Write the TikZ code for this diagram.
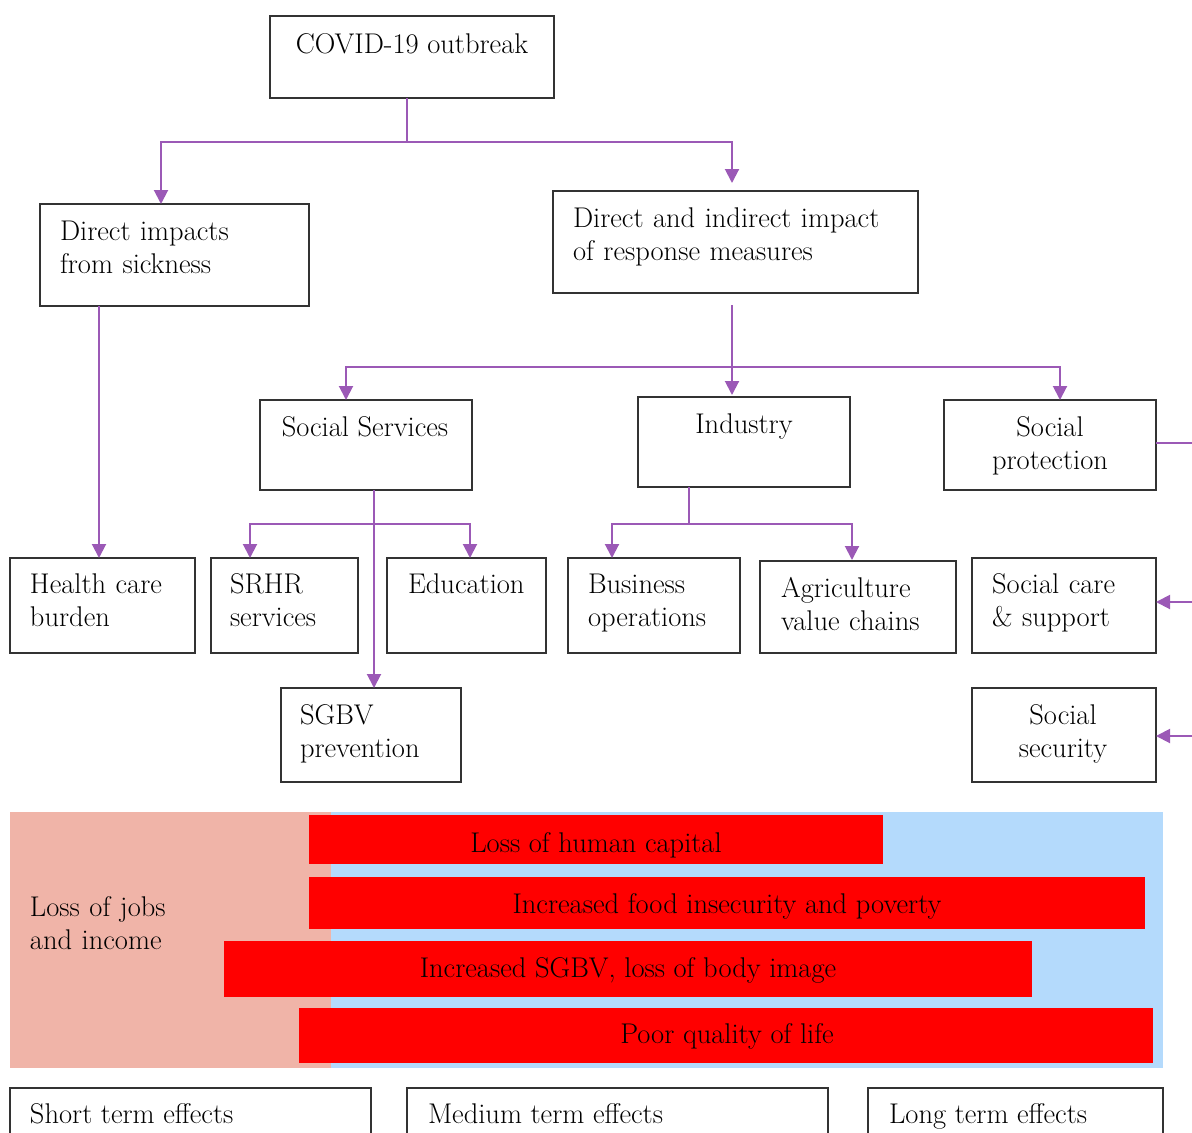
\documentclass[tikz,border=0pt]{standalone}
\usetikzlibrary{arrows.meta}
\definecolor{conncol}{RGB}{155,89,182}
\definecolor{pinkc}{RGB}{240,180,168}
\definecolor{bluec}{RGB}{180,218,252}
\begin{document}
\begin{tikzpicture}[x=1pt,y=-1pt,
  box/.style={draw=black!80,line width=1.4pt,inner sep=0pt,outer sep=0pt},
  txt/.style={inner sep=0pt,outer sep=0pt,font=\fontsize{28.5}{33}\selectfont},
  mtxt/.style={txt,text width=330pt,align=left},
  ctxt/.style={txt,text width=330pt,align=center},
  conn/.style={draw=conncol,line width=2pt},
  arr/.style={conn,-{Triangle[length=14pt,width=14pt]}},
  bar/.style={fill=red,inner sep=0pt,outer sep=0pt},
  zone/.style={inner sep=0pt,outer sep=0pt}]
\useasboundingbox (0,0) rectangle (1192,1133);
\clip (0,0) rectangle (1192,1133);

% ---- boxes ----
\node[box,minimum width=284pt,minimum height=82pt] (covid) at (412,57) {};
\node[box,minimum width=269pt,minimum height=102pt] (dsick) at (174.5,255) {};
\node[box,minimum width=365pt,minimum height=102pt] (dresp) at (735.5,242) {};
\node[box,minimum width=212pt,minimum height=90pt] (socserv) at (366,445) {};
\node[box,minimum width=212pt,minimum height=90pt] (industry) at (744,442) {};
\node[box,minimum width=212pt,minimum height=90pt] (sprot) at (1050,445) {};
\node[box,minimum width=185pt,minimum height=95pt] (health) at (102.5,605.5) {};
\node[box,minimum width=147pt,minimum height=95pt] (srhr) at (284.5,605.5) {};
\node[box,minimum width=159pt,minimum height=95pt] (educ) at (466.5,605.5) {};
\node[box,minimum width=172pt,minimum height=95pt] (business) at (654,605.5) {};
\node[box,minimum width=196pt,minimum height=92pt] (agri) at (858,607) {};
\node[box,minimum width=184pt,minimum height=95pt] (scare) at (1064,605.5) {};
\node[box,minimum width=180pt,minimum height=94pt] (sgbv) at (371,735) {};
\node[box,minimum width=184pt,minimum height=94pt] (ssec) at (1064,735) {};

% ---- box texts ----
\node[txt,anchor=base] (tcovid) at (412,53) {COVID-19 outbreak};
\node[mtxt,anchor=base west] (tdsick) at (60,240) {Direct impacts\\from sickness};
\node[mtxt,anchor=base west] (tdresp) at (573,227) {Direct and indirect impact\\of response measures};
\node[txt,anchor=base] (tsocserv) at (365,436) {Social Services};
\node[txt,anchor=base] (tindustry) at (744,433) {Industry};
\node[ctxt,anchor=base] (tsprot) at (1050,436) {Social\\protection};
\node[mtxt,anchor=base west] (thealth) at (30,593) {Health care\\burden};
\node[mtxt,anchor=base west] (tsrhr) at (230,593) {SRHR\\services};
\node[txt,anchor=base west] (teduc) at (408,593) {Education};
\node[mtxt,anchor=base west] (tbusiness) at (588,593) {Business\\operations};
\node[mtxt,anchor=base west] (tagri) at (781,597) {Agriculture\\value chains};
\node[mtxt,anchor=base west] (tscare) at (992,593) {Social care\\\& support};
\node[mtxt,anchor=base west] (tsgbv) at (300,724) {SGBV\\prevention};
\node[ctxt,anchor=base] (tssec) at (1063,724) {Social\\security};

% ---- connectors ----
\coordinate (j1) at (407,142);
\draw[conn] ([xshift=-5pt]covid.south) -- (j1);
\draw[arr] (j1) -| ([xshift=-13.5pt]dsick.north);
\draw[arr] (j1) -| ([xshift=-3.5pt,yshift=8pt]dresp.north);

\draw[arr] ([xshift=-75.5pt]dsick.south) -- ([xshift=-75.5pt]dsick.south |- health.north);

\coordinate (j2) at (732,367);
\draw[arr] ([xshift=-3.5pt,yshift=-12pt]dresp.south) -- ([xshift=-12pt,yshift=2pt]industry.north);
\draw[arr] (j2) -| ([xshift=-20pt]socserv.north);
\draw[arr] (j2) -| ([xshift=10pt]sprot.north);

\coordinate (j3) at (374,524);
\draw[arr] ([xshift=8pt]socserv.south) -- ([xshift=8pt]socserv.south |- sgbv.north);
\draw[arr] (j3) -| ([xshift=-34.5pt]srhr.north);
\draw[arr] (j3) -| ([xshift=3.5pt]educ.north);

\coordinate (j4) at (689,524);
\draw[conn] ([xshift=-55pt]industry.south) -- (j4);
\draw[arr] (j4) -| ([xshift=-42pt]business.north);
\draw[arr] (j4) -| ([xshift=-6pt,yshift=1pt]agri.north);

\coordinate (r1) at (1200,443);
\coordinate (r2) at (1200,602);
\coordinate (r3) at (1200,736);
\draw[conn] (sprot.east |- r1) -- (r1) -- (r3);
\draw[arr] (r2) -- (scare.east |- r2);
\draw[arr] (r3) -- (ssec.east |- r3);

% ---- effects zone ----
\node[zone,fill=pinkc,minimum width=321pt,minimum height=256pt] (shortzone) at (170.5,940) {};
\node[zone,fill=bluec,minimum width=832pt,minimum height=256pt] (longzone) at (747,940) {};
\node[mtxt,anchor=base west] (tjobs) at (30,916) {Loss of jobs\\and income};

\node[bar,minimum width=574pt,minimum height=49pt] (b1) at (596,839.5) {};
\node[bar,minimum width=836pt,minimum height=52pt] (b2) at (727,903) {};
\node[bar,minimum width=808pt,minimum height=56pt] (b3) at (628,969) {};
\node[bar,minimum width=854pt,minimum height=55pt] (b4) at (726,1035.5) {};
\node[txt,anchor=base] (tb1) at (596,852) {Loss of human capital};
\node[txt,anchor=base] (tb2) at (727,913) {Increased food insecurity and poverty};
\node[txt,anchor=base] (tb3) at (628,977) {Increased SGBV, loss of body image};
\node[txt,anchor=base] (tb4) at (727,1043) {Poor quality of life};

% ---- time boxes ----
\node[box,minimum width=361pt,minimum height=70pt] (short) at (190.5,1123) {};
\node[box,minimum width=421pt,minimum height=70pt] (medium) at (617.5,1123) {};
\node[box,minimum width=295pt,minimum height=70pt] (long) at (1015.5,1123) {};
\node[txt,anchor=base west] (tshort) at (30,1123) {Short term effects};
\node[txt,anchor=base west] (tmedium) at (428,1123) {Medium term effects};
\node[txt,anchor=base west] (tlong) at (889,1123) {Long term effects};
\end{tikzpicture}
\end{document}
